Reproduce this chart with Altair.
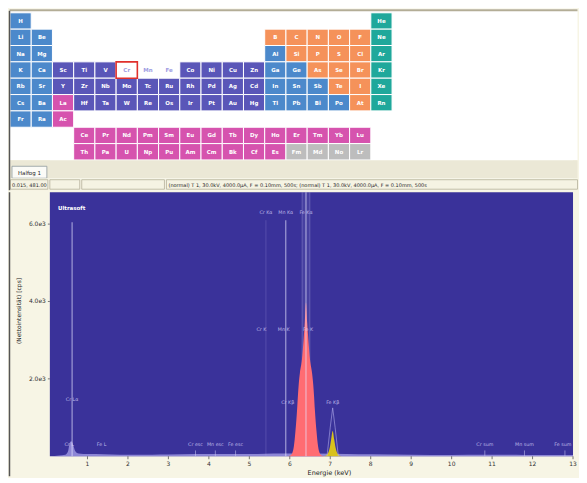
import altair as alt
import pandas as pd

# ---------------- periodic table data ----------------
symbols = ["H", "He",
           "Li", "Be", "B", "C", "N", "O", "F", "Ne",
           "Na", "Mg", "Al", "Si", "P", "S", "Cl", "Ar",
           "K", "Ca", "Sc", "Ti", "V", "Cr", "Mn", "Fe", "Co", "Ni", "Cu", "Zn", "Ga", "Ge", "As", "Se", "Br", "Kr",
           "Rb", "Sr", "Y", "Zr", "Nb", "Mo", "Tc", "Ru", "Rh", "Pd", "Ag", "Cd", "In", "Sn", "Sb", "Te", "I", "Xe",
           "Cs", "Ba", "La", "Hf", "Ta", "W", "Re", "Os", "Ir", "Pt", "Au", "Hg", "Tl", "Pb", "Bi", "Po", "At", "Rn",
           "Fr", "Ra", "Ac",
           "Ce", "Pr", "Nd", "Pm", "Sm", "Eu", "Gd", "Tb", "Dy", "Ho", "Er", "Tm", "Yb", "Lu",
           "Th", "Pa", "U", "Np", "Pu", "Am", "Cm", "Bk", "Cf", "Es", "Fm", "Md", "No", "Lr"]
columns = [1, 18,
           1, 2, 13, 14, 15, 16, 17, 18,
           1, 2, 13, 14, 15, 16, 17, 18,
           1, 2, 3, 4, 5, 6, 7, 8, 9, 10, 11, 12, 13, 14, 15, 16, 17, 18,
           1, 2, 3, 4, 5, 6, 7, 8, 9, 10, 11, 12, 13, 14, 15, 16, 17, 18,
           1, 2, 3, 4, 5, 6, 7, 8, 9, 10, 11, 12, 13, 14, 15, 16, 17, 18,
           1, 2, 3,
           4, 5, 6, 7, 8, 9, 10, 11, 12, 13, 14, 15, 16, 17,
           4, 5, 6, 7, 8, 9, 10, 11, 12, 13, 14, 15, 16, 17]
rows = [1, 1,
        2, 2, 2, 2, 2, 2, 2, 2,
        3, 3, 3, 3, 3, 3, 3, 3,
        4, 4, 4, 4, 4, 4, 4, 4, 4, 4, 4, 4, 4, 4, 4, 4, 4, 4,
        5, 5, 5, 5, 5, 5, 5, 5, 5, 5, 5, 5, 5, 5, 5, 5, 5, 5,
        6, 6, 6, 6, 6, 6, 6, 6, 6, 6, 6, 6, 6, 6, 6, 6, 6, 6,
        7, 7, 7,
        8, 8, 8, 8, 8, 8, 8, 8, 8, 8, 8, 8, 8, 8,
        9, 9, 9, 9, 9, 9, 9, 9, 9, 9, 9, 9, 9, 9]
groups = ["a", "g",
          "a", "a", "n", "n", "n", "n", "n", "g",
          "a", "a", "a", "n", "n", "n", "n", "g",
          "a", "a", "t", "t", "t", "s", "s", "s", "t", "t", "t", "t", "a", "a", "n", "n", "n", "g",
          "a", "a", "t", "t", "t", "t", "t", "t", "t", "t", "t", "t", "a", "a", "a", "n", "n", "g",
          "a", "a", "l", "t", "t", "t", "t", "t", "t", "t", "t", "t", "a", "a", "a", "a", "n", "g",
          "a", "a", "l",
          "l", "l", "l", "l", "l", "l", "l", "l", "l", "l", "l", "l", "l", "l",
          "l", "l", "l", "l", "l", "l", "l", "l", "l", "l", "x", "x", "x", "x"]
group_domain = ["a", "t", "n", "g", "l", "x", "s"]
group_colors = ["#4c89cb", "#5a56b8", "#f5925a", "#1fa89b", "#d653ae", "#bdbdbd", "#ffffff"]

# ---------------- spectrum data ----------------
x_ticks = [1, 2, 3, 4, 5, 6, 7, 8, 9, 10, 11, 12, 13]
x_tick_labels = ["1", "2", "3", "4", "5", "6", "7", "8", "9", "10", "11", "12", "13"]
y_ticks = [2000, 4000, 6000]
y_tick_labels = ["2.0e3", "4.0e3", "6.0e3"]
x_title = "Energie (keV)"
y_title = "(Nettointensität) [cps]"

fe_ka_e = [5.90, 6.00, 6.06, 6.10, 6.14, 6.18, 6.20, 6.22, 6.25, 6.30, 6.34, 6.37, 6.40,
           6.43, 6.46, 6.50, 6.55, 6.58, 6.60, 6.62, 6.66, 6.70, 6.74, 6.80, 6.90]
fe_ka_c = [0, 15, 80, 250, 650, 1200, 1550, 1850, 2150, 2500, 3000, 3450, 3975,
           3450, 3000, 2500, 2150, 1850, 1550, 1200, 650, 250, 80, 15, 0]

fe_kb_e = [6.84, 6.90, 6.95, 6.99, 7.02, 7.06, 7.10, 7.13, 7.17, 7.22, 7.28]
fe_kb_c = [0, 20, 90, 230, 420, 650, 420, 230, 90, 20, 0]

kb_outline_e = [6.92, 7.00, 7.06, 7.12, 7.20]
kb_outline_c = [0, 750, 1250, 750, 0]

bg_e = [0.07, 0.30, 0.45, 0.52, 0.56, 0.60, 0.64, 0.70, 0.78, 0.90, 1.20, 1.60, 2.00, 2.60, 3.00,
        3.70, 4.20, 4.70, 5.20, 5.60, 5.90, 7.40, 8.00, 9.00, 10.00, 10.80, 11.80, 12.80, 13.00]
bg_c = [0, 20, 40, 130, 340, 390, 310, 130, 70, 60, 55, 45, 40, 40, 45,
        55, 55, 55, 60, 70, 70, 60, 50, 40, 35, 40, 35, 35, 30]

bright_e = [0.62, 5.90, 6.40]
bright_top = [6050, 6100, 6825]
faint_e = [5.41, 6.31, 6.49]
faint_top = [6100, 6825, 6825]

tick_e = [3.67, 4.16, 4.66, 10.82, 11.80, 12.80]
tick_c = [150, 150, 150, 150, 150, 150]

lab_text = ["Cr Kα", "Mn Kα", "Fe Kα", "Cr K", "Mn K", "Fe K", "Cr Kβ", "Fe Kβ", "Cr Lα",
            "Cr L", "Fe L", "Cr esc", "Mn esc", "Fe esc", "Cr sum", "Mn sum", "Fe sum"]
lab_e = [5.41, 5.90, 6.40, 5.30, 5.85, 6.45, 5.95, 7.06, 0.62,
         0.55, 1.35, 3.67, 4.16, 4.66, 10.82, 11.80, 12.75]
lab_c = [6275, 6275, 6275, 3250, 3250, 3250, 1375, 1375, 1450,
         300, 300, 300, 300, 300, 300, 300, 300]

status_left = "0.015, 481.00"
status_text = ("(normal) T 1, 30.0kV, 4000.0µA, F = 0.10mm, 500s;  "
               "(normal) T 1, 30.0kV, 4000.0µA, F = 0.10mm, 500s")
tab_text = "Halfog 1"

FONT = "DejaVu Sans"
W = 525          # plot width shared by both panels (origin at page x = 50)
LEFT = -40.5     # window frame line, left of the plot origin
RIGHT = 529.5

# ================= top: periodic table =================
H1 = 182
el = pd.DataFrame({"sym": symbols, "col": columns, "row": rows, "grp": groups})
xs = alt.Scale(domain=[1.878, 26.526], nice=False, zero=False)
ys = alt.Scale(domain=[-0.244, 10.85], nice=False, zero=False, reverse=True)

base = alt.Chart(el).transform_calculate(
    c0="datum.col - 1", r0="datum.row - 1", cm="datum.col - 0.5", rm="datum.row - 0.5"
)
cells = base.mark_rect(stroke="white", strokeWidth=1).encode(
    x=alt.X("c0:Q", scale=xs, axis=None), x2="col:Q",
    y=alt.Y("r0:Q", scale=ys, axis=None), y2="row:Q",
    color=alt.Color("grp:N", scale=alt.Scale(domain=group_domain, range=group_colors), legend=None),
)
cr_box = base.transform_filter(alt.datum.sym == "Cr").mark_rect(
    filled=False, stroke="#e0302c", strokeWidth=1.6
).encode(
    x=alt.X("c0:Q", scale=xs, axis=None), x2="col:Q",
    y=alt.Y("r0:Q", scale=ys, axis=None), y2="row:Q",
)
cell_text = base.mark_text(fontSize=5.5, fontWeight="bold", font=FONT).encode(
    x=alt.X("cm:Q", scale=xs, axis=None),
    y=alt.Y("rm:Q", scale=ys, axis=None),
    text="sym:N",
    color=alt.condition(alt.datum.grp == "s", alt.value("#9e9ce2"), alt.value("white")),
)

ui = pd.DataFrame({"k": [0]})
U = alt.Chart(ui)


def box(x, x2, y, y2, **kw):
    return U.mark_rect(**kw).encode(
        x=alt.value(x), x2=alt.value(x2), y=alt.value(y), y2=alt.value(y2)
    )


paper = box(LEFT, RIGHT, 0, 152, fill="white")
strip = box(LEFT, RIGHT, 152, 170, fill="#ebe8d6")
tab = box(-38, -3, 158, 170, fill="#fbfbf7", stroke="#8f9a9e", strokeWidth=0.8)
tab_lbl = U.mark_text(fontSize=5.5, font=FONT, color="#222").encode(
    x=alt.value(-20.5), y=alt.value(164.5), text=alt.value(tab_text))
status = box(LEFT, RIGHT, 170, 182, fill="#f5f3e3")
f1 = box(-39.5, -2, 171.5, 181, filled=False, stroke="#b5b19c", strokeWidth=0.8)
f2 = box(0, 30, 171.5, 181, filled=False, stroke="#b5b19c", strokeWidth=0.8)
f3 = box(32, 115, 171.5, 181, filled=False, stroke="#b5b19c", strokeWidth=0.8)
f4 = box(117, RIGHT, 171.5, 181, filled=False, stroke="#b5b19c", strokeWidth=0.8)
st1 = U.mark_text(fontSize=5, font=FONT, color="#222", align="left").encode(
    x=alt.value(-38), y=alt.value(176.5), text=alt.value(status_left))
st2 = U.mark_text(fontSize=5, font=FONT, color="#222", align="left").encode(
    x=alt.value(119), y=alt.value(176.5), text=alt.value(status_text))
top_line = U.mark_rule(stroke="#b3ad96", strokeWidth=2).encode(
    x=alt.value(LEFT), x2=alt.value(RIGHT), y=alt.value(1.5))
left_line_top = U.mark_rule(stroke="#555555", strokeWidth=1.5).encode(
    x=alt.value(LEFT), y=alt.value(2), y2=alt.value(H1))

top = alt.layer(
    paper, cells, cr_box, cell_text, strip, tab, tab_lbl, status, f1, f2, f3, f4, st1, st2,
    top_line, left_line_top
).properties(width=W, height=H1, view=alt.ViewBackground(fill="white", strokeWidth=0))

# ================= bottom: spectrum =================
H2 = 265
xsc = alt.Scale(domain=[0.07, 13.0], nice=False, zero=False)
ysc = alt.Scale(domain=[0, 6825], nice=False, zero=False)


def X(f):
    return alt.X(f, scale=xsc, axis=None)


def Y(f):
    return alt.Y(f, scale=ysc, axis=None)


bg_df = pd.DataFrame({"e": bg_e, "c": bg_c})
background = alt.Chart(bg_df).mark_area(color="#a9a3ea", opacity=0.75, interpolate="monotone").encode(
    x=X("e:Q"), y=Y("c:Q"))

band_df = pd.DataFrame({"e0": [6.28], "e1": [6.52], "top": [6825]})
band = alt.Chart(band_df).mark_rect(color="white", opacity=0.07).encode(
    x=X("e0:Q"), x2="e1:Q", y=Y("top:Q"), y2=alt.datum(0))

faint_df = pd.DataFrame({"e": faint_e, "top": faint_top})
faint = alt.Chart(faint_df).mark_rule(color="#b8b2f2", opacity=0.22, strokeWidth=1).encode(
    x=X("e:Q"), y=Y("top:Q"), y2=alt.datum(0))

fe_ka = alt.Chart(pd.DataFrame({"e": fe_ka_e, "c": fe_ka_c})).mark_area(
    color="#ff6c72", interpolate="monotone").encode(x=X("e:Q"), y=Y("c:Q"))
fe_kb = alt.Chart(pd.DataFrame({"e": fe_kb_e, "c": fe_kb_c})).mark_area(
    color="#d8c11c", interpolate="monotone").encode(x=X("e:Q"), y=Y("c:Q"))
kb_outline = alt.Chart(pd.DataFrame({"e": kb_outline_e, "c": kb_outline_c})).mark_line(
    color="#b9b3f0", strokeWidth=0.8, opacity=0.7).encode(x=X("e:Q"), y=Y("c:Q"))

bright_df = pd.DataFrame({"e": bright_e, "top": bright_top})
bright = alt.Chart(bright_df).mark_rule(color="#e6e3ff", opacity=0.55, strokeWidth=1.3).encode(
    x=X("e:Q"), y=Y("top:Q"), y2=alt.datum(0))

ticks_df = pd.DataFrame({"e": tick_e, "c": tick_c})
small_ticks = alt.Chart(ticks_df).mark_rule(color="#c9c5f5", opacity=0.7, strokeWidth=0.8).encode(
    x=X("e:Q"), y=Y("c:Q"), y2=alt.datum(0))

lab_df = pd.DataFrame({"t": lab_text, "e": lab_e, "c": lab_c})
labels = alt.Chart(lab_df).mark_text(fontSize=4.8, font=FONT, color="#d2cef7", opacity=0.85).encode(
    x=X("e:Q"), y=Y("c:Q"), text="t:N")
ultra = alt.Chart(pd.DataFrame({"t": ["Ultrasoft"], "e": [0.27], "c": [6425]})).mark_text(
    fontSize=5.5, font=FONT, fontWeight="bold", color="white", align="left").encode(
    x=X("e:Q"), y=Y("c:Q"), text="t:N")

# axes drawn through the scales
xt_df = pd.DataFrame({"v": x_ticks, "t": x_tick_labels})
yt_df = pd.DataFrame({"v": y_ticks, "t": y_tick_labels})
x_tick_marks = alt.Chart(xt_df).mark_rule(color="#555555", strokeWidth=0.8).encode(
    x=X("v:Q"), y=alt.value(H2), y2=alt.value(H2 + 3))
x_tick_text = alt.Chart(xt_df).mark_text(fontSize=6, font=FONT, color="#333333", baseline="middle").encode(
    x=X("v:Q"), y=alt.value(H2 + 8), text="t:N")
y_tick_marks = alt.Chart(yt_df).mark_rule(color="#555555", strokeWidth=0.8).encode(
    y=Y("v:Q"), x=alt.value(-2), x2=alt.value(0))
y_tick_text = alt.Chart(yt_df).mark_text(fontSize=6, font=FONT, color="#333333", align="right",
                                          baseline="middle").encode(
    y=Y("v:Q"), x=alt.value(-4), text="t:N")
x_title_mark = U.mark_text(fontSize=6.5, font=FONT, color="#222222", baseline="middle").encode(
    x=alt.value(W / 2 + 18), y=alt.value(H2 + 17), text=alt.value(x_title))
y_title_mark = U.mark_text(fontSize=6, font=FONT, color="#222222", baseline="middle", angle=270).encode(
    x=alt.value(-31), y=alt.value(H2 * 0.45), text=alt.value(y_title))

left_line_bot = U.mark_rule(stroke="#555555", strokeWidth=1.5).encode(
    x=alt.value(LEFT), y=alt.value(0), y2=alt.value(H2 + 20))

bottom = alt.layer(
    background, band, faint, fe_ka, fe_kb, kb_outline, bright, small_ticks, labels, ultra,
    x_tick_marks, x_tick_text, y_tick_marks, y_tick_text, x_title_mark, y_title_mark,
    left_line_bot
).properties(width=W, height=H2, view=alt.ViewBackground(fill="#3a329a", strokeWidth=0))

chart = alt.vconcat(top, bottom, spacing=0).properties(background="#f7f5e5", padding=0)

chart.save("out.html", embed_options={"renderer": "svg", "actions": False})
